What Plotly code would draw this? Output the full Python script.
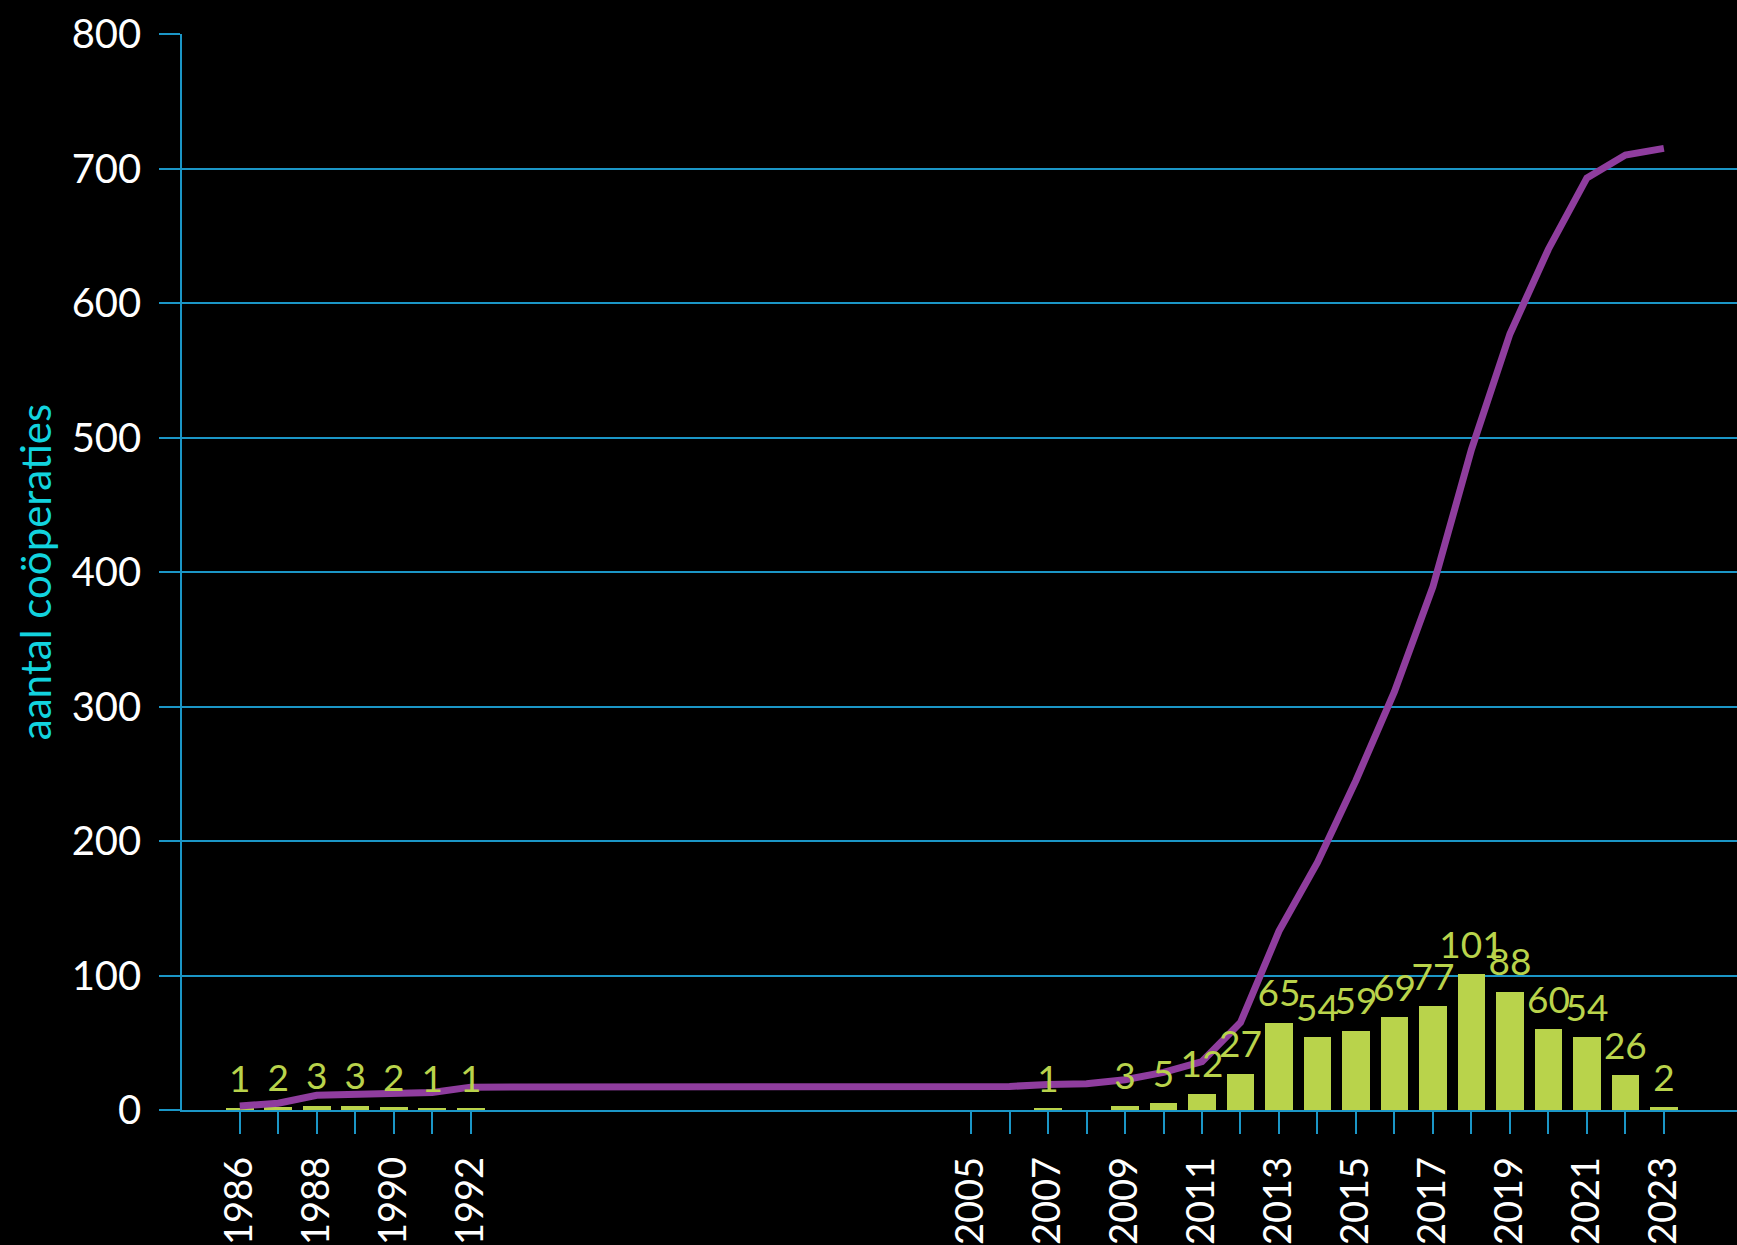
import plotly.graph_objects as go

# Data
bar_years = [1986, 1987, 1988, 1989, 1990, 1991, 1992,
             2007, 2009, 2010, 2011, 2012, 2013, 2014, 2015, 2016,
             2017, 2018, 2019, 2020, 2021, 2022, 2023]
bar_values = [1, 2, 3, 3, 2, 1, 1,
              1, 3, 5, 12, 27, 65, 54, 59, 69,
              77, 101, 88, 60, 54, 26, 2]

line_years = [1986, 1987, 1988, 1989, 1990, 1991, 1992,
              2005, 2006, 2007, 2008, 2009, 2010, 2011, 2012, 2013,
              2014, 2015, 2016, 2017, 2018, 2019, 2020, 2021, 2022, 2023]
line_values = [3, 5, 11, 12, 13, 13, 17,
               17, 17.5, 19, 19.5, 22.5, 28, 36, 65, 133,
               184, 245, 311, 389, 491, 577, 640, 693, 710, 715]

tick_years = list(range(1986, 1993)) + list(range(2005, 2024))
tick_labels = [str(y) if (y <= 1992 and y % 2 == 0) or (y >= 2005 and y % 2 == 1) else ""
               for y in tick_years]

BLUE = "#1b96c6"
GREEN = "#b9d34b"
PURPLE = "#8f3d9e"
CYAN = "#12d3de"
FONT = "Lato"

fig = go.Figure()
fig.add_trace(go.Bar(
    x=bar_years, y=bar_values, width=0.72,
    marker=dict(color=GREEN, line=dict(width=0)),
    hoverinfo="skip", showlegend=False,
))
fig.add_trace(go.Scatter(
    x=line_years, y=line_values, mode="lines",
    line=dict(color=PURPLE, width=7),
    showlegend=False,
))
fig.add_trace(go.Scatter(
    x=bar_years, y=bar_values, mode="markers+text",
    marker=dict(size=10, color="rgba(0,0,0,0)"),
    text=[str(v) for v in bar_values], textposition="top center",
    textfont=dict(family=FONT, size=37, color=GREEN),
    cliponaxis=False, showlegend=False, hoverinfo="skip",
))

fig.update_layout(
    width=1737, height=1245,
    paper_bgcolor="black", plot_bgcolor="black",
    margin=dict(l=182, r=0, t=34, b=131),
    bargap=0,
    xaxis=dict(
        range=[1984.5, 2024.9],
        tickmode="array", tickvals=tick_years, ticktext=tick_labels,
        tickangle=-90,
        ticks="outside", ticklen=22, tickwidth=1.5, tickcolor=BLUE,
        showline=True, linecolor=BLUE, linewidth=1.5,
        showgrid=False, zeroline=False,
        tickfont=dict(family=FONT, size=38, color="white"),
        ticklabelstandoff=8,
    ),
    yaxis=dict(
        range=[0, 800], dtick=100,
        ticks="outside", ticklen=21, tickwidth=1.5, tickcolor=BLUE,
        showline=True, linecolor=BLUE, linewidth=1.5,
        showgrid=True, gridcolor=BLUE, gridwidth=1.5,
        zeroline=False,
        tickfont=dict(family=FONT, size=40, color="white"),
        ticklabelstandoff=10,
        title=dict(text="aantal coöperaties", standoff=7,
                   font=dict(family=FONT, size=42, color=CYAN)),
    ),
)

fig.write_html(
    "out.html",
    config={"displayModeBar": False},
    post_script="document.body.style.margin='0';document.body.style.padding='0';"
                "document.documentElement.style.background='black';",
)
